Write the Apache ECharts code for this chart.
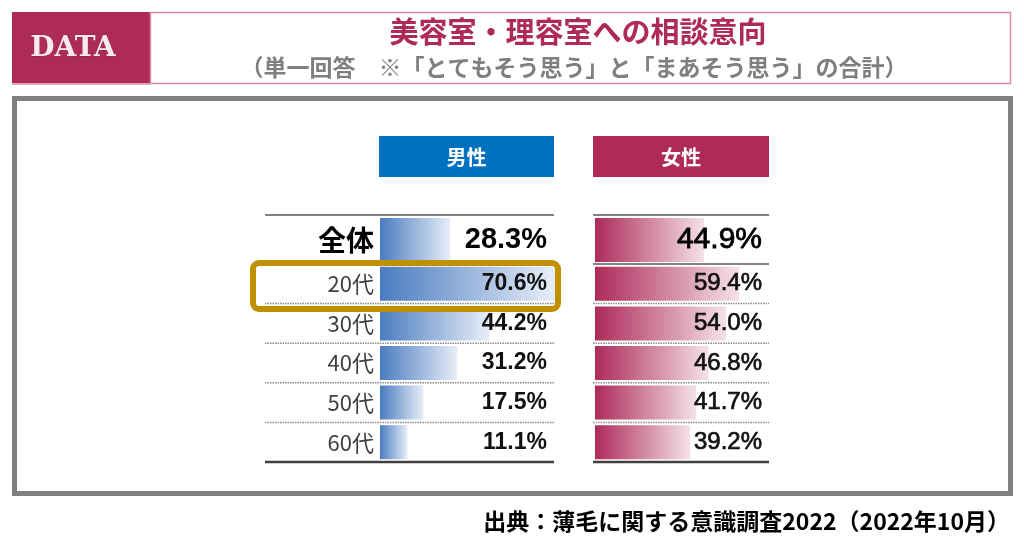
<!DOCTYPE html>
<html><head><meta charset="utf-8">
<script src="https://cdn.jsdelivr.net/npm/echarts@6/dist/echarts.min.js"></script>
<style>html,body{margin:0;padding:0;background:#fff}#c{width:1024px;height:538px}</style>
</head><body><div id="c"></div>
<script>
const categories = ['全体', '20代', '30代', '40代', '50代', '60代'];
const maleValues = [28.3, 70.6, 44.2, 31.2, 17.5, 11.1];
const femaleValues = [44.9, 59.4, 54.0, 46.8, 41.7, 39.2];
const seriesNames = ['男性', '女性'];
const titleText = '美容室・理容室への相談意向';
const subtitleText = '（単一回答　※「とてもそう思う」と「まあそう思う」の合計）';
const sourceText = '出典：薄毛に関する意識調査2022（2022年10月）';

const CJK = '"Noto Sans CJK JP", sans-serif';
const LAT = '"Liberation Sans", Arial, sans-serif';
const fmt = v => v.toFixed(1) + '%';
const totalCat = categories.slice(0, 1);
const ageCat = categories.slice(1);

const maleGrad = {type:'linear',x:0,y:0,x2:1,y2:0,colorStops:[{offset:0,color:'#4a7cc0'},{offset:1,color:'#e8eef8'}]};
const femaleGrad = {type:'linear',x:0,y:0,x2:1,y2:0,colorStops:[{offset:0,color:'#ad2a5a'},{offset:1,color:'#f5e2e9'}]};

const MX = 380, MW = 248, FX = 595, FW = 243;
const grids = [
  {left: MX, top: 217, width: MW, height: 46},
  {left: MX, top: 264, width: MW, height: 198},
  {left: FX, top: 217, width: FW, height: 46},
  {left: FX, top: 264, width: FW, height: 198}
].map(g => Object.assign({outerBoundsMode: 'none', containLabel: false}, g));

const xAxes = [0,1,2,3].map(i => ({type:'value', gridIndex:i, min:0, max:100, show:false}));

function catAxis(grid, data, label) {
  return Object.assign({type:'category', gridIndex:grid, data:data, inverse:true, position:'left',
    axisLine:{show:false}, axisTick:{show:false}, splitLine:{show:false}, z:10}, label);
}
const yAxes = [
  catAxis(0, totalCat, {axisLabel:{margin:6, fontSize:28, fontWeight:'bold', color:'#000', fontFamily:CJK}}),
  catAxis(0, totalCat, {offset:-167, axisLabel:{margin:0, align:'right', fontSize:29, fontWeight:'bold', color:'#000', fontFamily:LAT,
    formatter:(v,i)=>fmt(maleValues.slice(0,1)[i])}}),
  catAxis(1, ageCat, {axisLabel:{margin:6, fontSize:22, color:'#404040', fontFamily:CJK}}),
  catAxis(1, ageCat, {offset:-167, axisLabel:{margin:0, align:'right', fontSize:23, fontWeight:'bold', color:'#111', fontFamily:LAT,
    formatter:(v,i)=>fmt(maleValues.slice(1)[i])}}),
  catAxis(2, totalCat, {offset:-167, axisLabel:{margin:0, align:'right', fontSize:30, color:'#000', fontFamily:LAT,
    textBorderColor:'#000', textBorderWidth:0.8,
    formatter:(v,i)=>fmt(femaleValues.slice(0,1)[i])}}),
  catAxis(3, ageCat, {offset:-167, axisLabel:{margin:0, align:'right', fontSize:24, color:'#111', fontFamily:LAT,
    textBorderColor:'#111', textBorderWidth:0.7,
    formatter:(v,i)=>fmt(femaleValues.slice(1)[i])}})
];

const series = [
  {type:'bar', name:seriesNames[0], xAxisIndex:0, yAxisIndex:0, data:maleValues.slice(0,1), barWidth:44, itemStyle:{color:maleGrad}, silent:true},
  {type:'bar', name:seriesNames[0], xAxisIndex:1, yAxisIndex:2, data:maleValues.slice(1), barWidth:34, itemStyle:{color:maleGrad}, silent:true},
  {type:'bar', name:seriesNames[1], xAxisIndex:2, yAxisIndex:4, data:femaleValues.slice(0,1), barWidth:44, itemStyle:{color:femaleGrad}, silent:true},
  {type:'bar', name:seriesNames[1], xAxisIndex:3, yAxisIndex:5, data:femaleValues.slice(1), barWidth:34, itemStyle:{color:femaleGrad}, silent:true}
];

function hline(x1, x2, y, color, w, dash) {
  return {type:'line', shape:{x1:x1, y1:y, x2:x2, y2:y}, style:{stroke:color, lineWidth:w, lineDash:dash||null}, z:5, silent:true};
}
const tableLines = [];
[[265, 554], [593, 769]].forEach(([a, b]) => {
  tableLines.push(hline(a, b, 215, '#595959', 1.5));
  tableLines.push(hline(a, b, 264, '#595959', 1.5));
  [303.6, 343.2, 382.8, 422.4].forEach(y => tableLines.push(hline(a, b, y, '#8c8c8c', 1.5, [1.5, 1])));
  tableLines.push(hline(a, b, 462, '#404040', 2.5));
});

const graphic = [
  {type:'rect', shape:{x:12, y:12, width:138, height:72}, style:{fill:'#ae2b59'}, z:1},
  {type:'rect', shape:{x:12, y:83, width:138, height:2}, style:{fill:'#e7a3bb'}, z:1},
  {type:'rect', shape:{x:150.5, y:12.5, width:860, height:71}, style:{fill:'#fff', stroke:'#d98ca6', lineWidth:1.5}, z:1},
  {type:'text', x:73, y:49, style:{text:'DATA', fill:'#f7e9ee', stroke:'#7a1a3c', lineWidth:0.6, font:'bold 28px "DejaVu Serif", serif', align:'center', verticalAlign:'middle'}, z:2},
  {type:'text', x:578, y:32, style:{text:titleText, fill:'#ae2b59', font:'bold 29px ' + CJK, align:'center', verticalAlign:'middle'}, z:2},
  {type:'text', x:574, y:67, style:{text:subtitleText, fill:'#7f7f7f', font:'bold 23px ' + CJK, align:'center', verticalAlign:'middle'}, z:2},
  {type:'rect', shape:{x:14.5, y:98.5, width:996, height:395}, style:{fill:null, stroke:'#808080', lineWidth:5}, z:1},
  {type:'rect', shape:{x:379, y:136, width:175, height:41}, style:{fill:'#0070c0'}, z:1},
  {type:'text', x:466.5, y:157, style:{text:seriesNames[0], fill:'#fff', font:'bold 20px ' + CJK, align:'center', verticalAlign:'middle'}, z:2},
  {type:'rect', shape:{x:593, y:136, width:176, height:41}, style:{fill:'#ae2b59'}, z:1},
  {type:'text', x:681, y:157, style:{text:seriesNames[1], fill:'#fff', font:'bold 20px ' + CJK, align:'center', verticalAlign:'middle'}, z:2},
  ...tableLines,
  {type:'rect', shape:{x:253, y:263, width:305, height:46, r:6}, style:{fill:null, stroke:'#bf9000', lineWidth:6}, z:20},
  {type:'text', x:1010, y:521, style:{text:sourceText, fill:'#000', font:'bold 23px ' + CJK, align:'right', verticalAlign:'middle'}, z:2}
];

const chart = echarts.init(document.getElementById('c'), null, {renderer:'canvas'});
chart.setOption({
  animation:false,
  backgroundColor:'#fff',
  grid: grids,
  xAxis: xAxes,
  yAxis: yAxes,
  series: series,
  graphic: graphic
});
</script>
</body></html>
